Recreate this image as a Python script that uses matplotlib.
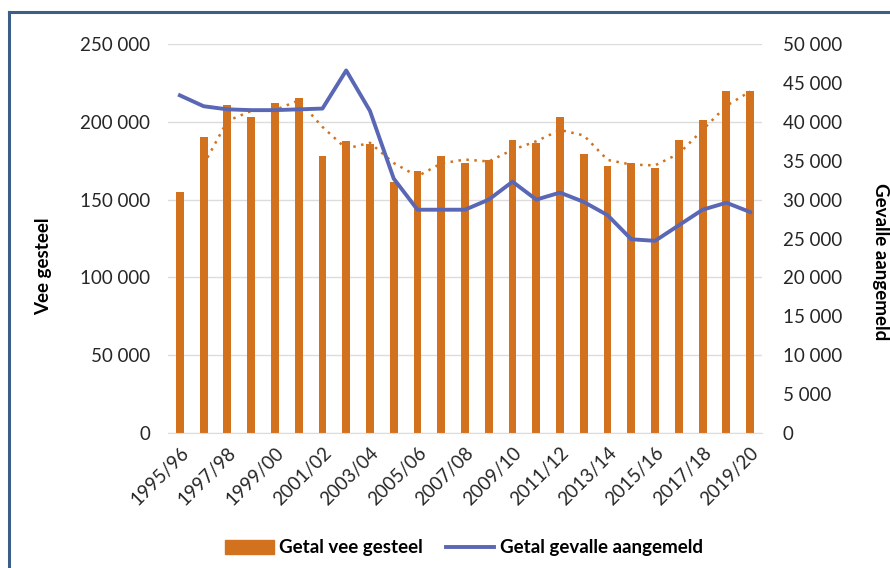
import matplotlib
matplotlib.use("Agg")
import matplotlib.pyplot as plt
from matplotlib.lines import Line2D
from matplotlib.patches import Patch
from matplotlib.ticker import FuncFormatter, MultipleLocator
import numpy as np
import pandas as pd

seasons = [f"{y}/{str(y + 1)[-2:]}" for y in range(1995, 2020)]
vee_gesteel = [155000, 190000, 211000, 203000, 212000, 215500, 178000, 187500,
               185500, 161500, 168500, 178000, 173500, 175500, 188500, 186500,
               203000, 179500, 171500, 173500, 170500, 188500, 201000, 219500,
               219500]
gevalle = [43400, 42000, 41600, 41500, 41500, 41600, 41700, 46600, 41400,
           32700, 28700, 28700, 28700, 30000, 32300, 30000, 30900, 29700,
           28000, 24900, 24700, 26700, 28700, 29600, 28400]

ORANGE = "#D2721E"
BLUE = "#5A67B4"
GRID = "#DCDCDC"
TEXT = "#262626"

plt.rcParams["font.family"] = ["Lato", "DejaVu Sans"]


def spaced(v, pos):
    return f"{int(v):,}".replace(",", " ")


fig = plt.figure(figsize=(8.9, 5.68), dpi=100)
ax = fig.add_axes([168 / 890, 1 - 433 / 568, (762 - 168) / 890, (433 - 44) / 568])
ax2 = ax.twinx()

x = np.arange(len(seasons))
ax.bar(x, vee_gesteel, width=0.33, color=ORANGE, zorder=2)
# moving average trendline (period 2), as in the source chart
trend = pd.Series(vee_gesteel).rolling(2).mean()
ax.plot(x, trend, color=ORANGE, linestyle=(0, (1, 2.2)), linewidth=1.8, zorder=3)
ax2.plot(x, gevalle, color=BLUE, linewidth=2.8, zorder=4)

ax.set_xlim(-0.5, len(seasons) - 0.5)
ax.set_ylim(0, 250000)
ax2.set_ylim(0, 50000)
ax.yaxis.set_major_locator(MultipleLocator(50000))
ax2.yaxis.set_major_locator(MultipleLocator(5000))
ax.yaxis.set_major_formatter(FuncFormatter(spaced))
ax2.yaxis.set_major_formatter(FuncFormatter(spaced))
ax.grid(axis="y", color=GRID, linewidth=1.0, zorder=0)
ax.set_axisbelow(True)

ax.set_xticks(x[::2])
ax.set_xticklabels(seasons[::2], rotation=45, ha="right", rotation_mode="anchor",
                   fontsize=13.5, color=TEXT)
for a in (ax, ax2):
    for s in a.spines.values():
        s.set_visible(False)
    a.tick_params(length=0, labelsize=13.5, colors=TEXT)
ax.spines["bottom"].set_visible(True)
ax.spines["bottom"].set_color(GRID)
ax.tick_params(axis="y", pad=13)
ax.tick_params(axis="x", pad=8)
ax2.tick_params(axis="y", pad=15)

fig.text(44 / 890, 1 - 266 / 568, "Vee gesteel", rotation=90, ha="center",
         va="center", fontsize=13.5, fontweight="bold", color="black")
fig.text(880 / 890, 1 - 262 / 568, "Gevalle aangemeld", rotation=-90, ha="center",
         va="center", fontsize=13.5, fontweight="bold", color="black")

handles = [Patch(color=ORANGE), Line2D([], [], color=BLUE, linewidth=2.8)]
fig.legend(handles, ["Getal vee gesteel", "Getal gevalle aangemeld"],
           loc="center", bbox_to_anchor=(464 / 890, 1 - 548 / 568), ncol=2,
           frameon=False, handlelength=2.6, handletextpad=0.3, columnspacing=1.2,
           prop={"weight": "bold", "size": 13.5})

# outer frame (cropped at right and bottom)
frame = "#3F5E85"
fig.add_artist(Line2D([9 / 890, 9 / 890], [0, 1 - 12 / 568], color=frame,
                      linewidth=2.2, transform=fig.transFigure))
fig.add_artist(Line2D([9 / 890, 1], [1 - 12 / 568, 1 - 12 / 568], color=frame,
                      linewidth=2.2, transform=fig.transFigure))

fig.savefig("out.png", dpi=100)
